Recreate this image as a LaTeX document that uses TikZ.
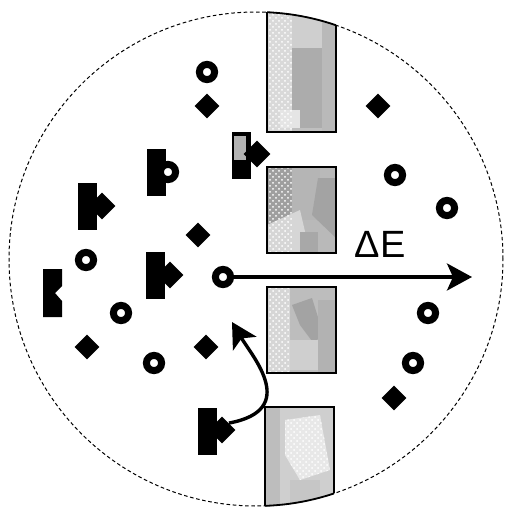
\documentclass[tikz,border=0pt]{standalone}
\usepackage{fontspec}
\setmainfont{Liberation Sans}
\usetikzlibrary{shapes.geometric}
\usetikzlibrary{arrows.meta}
\usetikzlibrary{patterns}

\tikzset{
  ring/.style={circle, draw, fill=white, line width=3.5pt, minimum size=7.6pt, inner sep=0pt},
  dia/.style={diamond, fill, minimum size=12.5pt, inner sep=0pt},
  bigdia/.style={diamond, fill, minimum size=13.5pt, inner sep=0pt},
  bar/.style={rectangle, fill, minimum width=9.5pt, minimum height=23.5pt, inner sep=0pt},
  panel/.style={draw, line width=0.6pt},
  grain/.style={pattern=crosshatch dots, pattern color=white},
  push/.style={line width=1.7pt, -{Stealth[length=12.5pt, width=13.5pt, inset=3pt]}},
}

\begin{document}
\begin{tikzpicture}[x=0.5pt, y=-0.5pt]
\useasboundingbox (0,0) rectangle (505,510);

% --- grain (dashed boundary)
\draw[line width=0.5pt, dash pattern=on 1.8pt off 1.3pt] (256,259) circle (123.5pt);

% --- boundary panels
\begin{scope}
\clip (256,259) circle (123.5pt);
% top
\fill[gray!50] (267,0) rectangle (336,132);
\fill[gray!30] (267,0) rectangle (292,132);
\fill[gray!38] (292,0) rectangle (322,48);
\fill[gray!65] (292,48) rectangle (322,128);
\fill[gray!55] (322,22) rectangle (336,132);
\fill[gray!20] (280,110) rectangle (300,128);
\fill[grain] (267,0) rectangle (292,132);
\draw[panel] (267,0) rectangle (336,132);
% second
\fill[gray!55] (267,167) rectangle (336,253);
\fill[gray!75] (267,167) -- (292,167) -- (300,210) -- (267,225) -- cycle;
\fill[gray!58] (292,167) rectangle (320,220);
\fill[gray!72] (318,178) -- (336,178) -- (336,238) -- (312,215) -- cycle;
\fill[gray!32] (267,225) -- (300,210) -- (310,253) -- (267,253) -- cycle;
\fill[gray!68] (300,232) rectangle (318,253);
\fill[grain] (267,167) rectangle (292,253);
\draw[panel] (267,167) rectangle (336,253);
% third
\fill[gray!52] (267,287) rectangle (336,373);
\fill[gray!32] (267,287) rectangle (290,373);
\fill[gray!72] (292,305) -- (312,298) -- (322,330) -- (315,345) -- (300,325) -- cycle;
\fill[gray!38] (290,340) rectangle (318,370);
\fill[gray!60] (318,300) rectangle (336,373);
\fill[grain] (267,287) rectangle (290,373);
\draw[panel] (267,287) rectangle (336,373);
% bottom
\fill[gray!38] (265,407) rectangle (334,510);
\fill[gray!18] (285,420) -- (320,415) -- (330,470) -- (300,480) -- (285,455) -- cycle;
\fill[gray!52] (265,407) rectangle (280,510);
\fill[gray!45] (290,480) rectangle (320,510);
\fill[grain] (285,420) -- (320,415) -- (330,470) -- (300,480) -- (285,455) -- cycle;
\draw[panel] (265,407) rectangle (334,510);
\end{scope}
\begin{scope}
\clip (267,0) rectangle (336,40);
\draw[line width=0.9pt] (256,259) circle (123.5pt);
\end{scope}
\begin{scope}
\clip (265,470) rectangle (334,510);
\draw[line width=0.9pt] (256,259) circle (123.5pt);
\end{scope}

% --- free rings
\node[ring] (R1) at (207,72) {};
\node[ring] (R2) at (395,175) {};
\node[ring] (R3) at (447,208) {};
\node[ring] (R4) at (86,260) {};
\node[ring] (R0) at (223,277) {};
\node[ring] (R5) at (121,313) {};
\node[ring] (R6) at (428,313) {};
\node[ring] (R7) at (154,363) {};
\node[ring] (R8) at (413,363) {};

% --- free diamonds
\node[dia] (D1) at (207,106) {};
\node[dia] (D2) at (378,106) {};
\node[dia] (D3) at (198,235) {};
\node[dia] (D4) at (87,347) {};
\node[dia] (D5) at (206,347) {};
\node[dia] (D6) at (394,398) {};

% --- bound pairs
\node[bar] (M1) at (241,155) {};
\fill[gray!60] (234,136) rectangle (246,160);
\node[bigdia] (M1d) at (257,154) {};

\node[bar] (M2) at (156,172) {};
\node[ring] (M2r) at (168,172) {};

\node[bar] (M3) at (87,206) {};
\node[bigdia] (M3d) at (102,206) {};

\node[bar] (M4) at (155,275) {};
\node[bigdia] (M4d) at (170,275) {};

\node[bar] (M6) at (207,431) {};
\node[bigdia] (M6d) at (222,430) {};

% --- empty site
\fill (43,269) -- (62,269) -- (62,286) -- (55,293) -- (62,301) -- (62,317) -- (43,317) -- cycle;

% --- arrows
\coordinate (E) at (472,277);
\draw[push] (R0.east) -- (E);
\node at (380,244) {\fontsize{19}{19}\selectfont ΔE};

\coordinate (T) at (232,322);
\draw[push] (M6d.north east) .. controls (300,410) and (252,356) .. (T);

\end{tikzpicture}
\end{document}
